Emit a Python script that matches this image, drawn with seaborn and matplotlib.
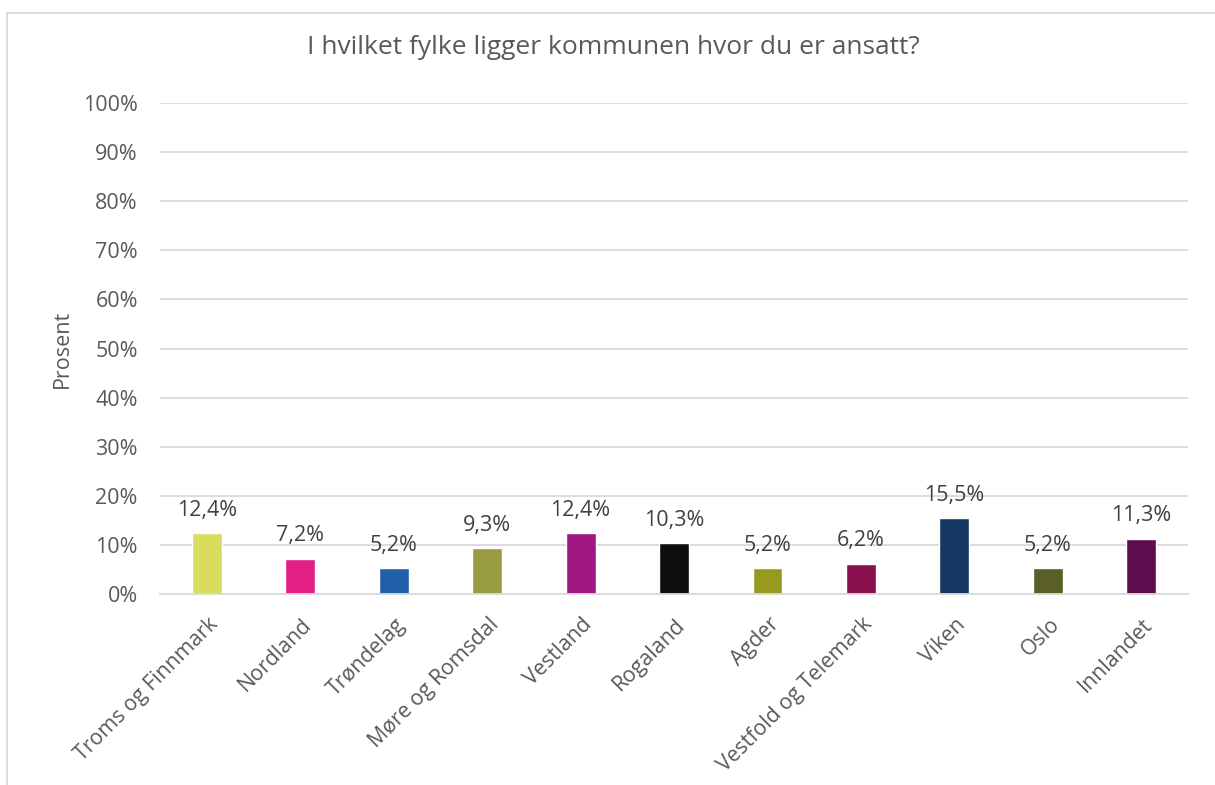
import matplotlib
matplotlib.use("Agg")
import matplotlib.pyplot as plt
import matplotlib.transforms as mtransforms
import seaborn as sns
import pandas as pd
from matplotlib.lines import Line2D

fylker = ["Troms og Finnmark", "Nordland", "Trøndelag", "Møre og Romsdal", "Vestland",
          "Rogaland", "Agder", "Vestfold og Telemark", "Viken", "Oslo", "Innlandet"]
prosent = [12.4, 7.2, 5.2, 9.3, 12.4, 10.3, 5.2, 6.2, 15.5, 5.2, 11.3]
farger = ["#D9DD5C", "#E31F85", "#2060A8", "#989B40", "#A01784", "#0E0E0E",
          "#989A20", "#8A1150", "#143862", "#5A5E27", "#5E0E4E"]
y_ticks = [0, 10, 20, 30, 40, 50, 60, 70, 80, 90, 100]

df = pd.DataFrame({"fylke": fylker, "prosent": prosent})

sns.set_style("white")
plt.rcParams["font.family"] = ["Open Sans", "DejaVu Sans"]
text_color = "#595959"

fig = plt.figure(figsize=(12.15, 7.85), dpi=100)
ax = fig.add_axes([0.1317, 0.2433, 0.8461, 0.6255])

sns.barplot(data=df, x="fylke", y="prosent", hue="fylke", palette=farger,
            legend=False, width=0.32, saturation=1, ax=ax)

ax.set_ylim(0, 100)
ax.set_xlim(-0.5, len(fylker) - 0.5)
ax.set_yticks(y_ticks)
ax.set_yticklabels([f"{t}%" for t in y_ticks], fontsize=15.5, color=text_color)
ax.yaxis.grid(True, color="#D9D9D9", linewidth=1.3)
ax.set_axisbelow(True)
for s in ["top", "right", "left"]:
    ax.spines[s].set_visible(False)
ax.spines["bottom"].set_color("#D9D9D9")
ax.spines["bottom"].set_linewidth(1.3)
ax.tick_params(axis="y", length=0, pad=16)

ax.set_xticks(range(len(fylker)))
ax.set_xticklabels(fylker, rotation=45, ha="right", rotation_mode="anchor",
                   fontsize=15.3, color=text_color)
ax.tick_params(axis="x", length=0, pad=0)
shift = mtransforms.ScaledTranslation(0.01, -0.20, fig.dpi_scale_trans)
for lbl in ax.get_xticklabels():
    lbl.set_transform(lbl.get_transform() + shift)
ax.set_xlabel("")
ax.set_ylabel("Prosent", fontsize=15.5, color=text_color, labelpad=7)

for i, v in enumerate(prosent):
    ax.text(i, v + 3.5, f"{v:.1f}%".replace(".", ","), ha="center", va="baseline",
            fontsize=15.5, color="#404040")

fig.text(0.505, 0.940, "I hvilket fylke ligger kommunen hvor du er ansatt?",
         ha="center", va="center", fontsize=19, color=text_color)

# chart frame (top and left edge visible)
fig.add_artist(Line2D([7 / 1215, 1], [1 - 13 / 785] * 2, transform=fig.transFigure,
                      color="#D9D9D9", linewidth=1.3))
fig.add_artist(Line2D([7 / 1215] * 2, [0, 1 - 13 / 785], transform=fig.transFigure,
                      color="#D9D9D9", linewidth=1.3))

fig.savefig("out.png", dpi=100, facecolor="white")
